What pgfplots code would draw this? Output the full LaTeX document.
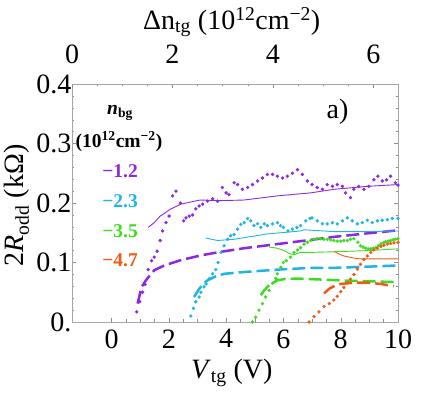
\documentclass[border=0pt]{standalone}
\usepackage{fontspec}
\setmainfont{Liberation Serif}
\usepackage{pgfplots}
\pgfplotsset{compat=1.18}
\definecolor{cPur}{RGB}{140,40,225}
\definecolor{cCya}{RGB}{30,180,230}
\definecolor{cGrn}{RGB}{60,220,30}
\definecolor{cOra}{RGB}{240,90,20}
\newcommand{\lblfont}{\fontsize{28}{30}\selectfont}
\newcommand{\inner}{\bfseries\fontsize{19.5}{21}\selectfont}

\begin{document}
\begin{tikzpicture}
\pgfplotsset{
  frame/.style={scale only axis, width=326pt, height=238pt,
    tick align=inside, axis line style={black!35},
    every tick/.style={black!45}, major tick length=4pt, minor tick length=2.5pt,
    tick label style={font=\lblfont}, label style={font=\lblfont},
    /pgf/number format/assume math mode=true},
  dots/.style={only marks, mark=*, mark size=1.5pt, color=#1},
  thin/.style={#1, line width=0.9pt, no marks},
  dash/.style={#1, line width=2.5pt, no marks, dash pattern=on 13pt off 5pt},
}
\begin{axis}[frame,
  xmin=-1.38, xmax=10, ymin=0, ymax=0.4,
  xtick={0,2,4,6,8,10}, ytick={0,0.1,0.2,0.3,0.4},
  yticklabels={0.,0.1,0.2,0.3,0.4},
  minor x tick num=3, minor y tick num=4,
  xtick pos=bottom, ytick pos=both, yticklabel pos=left,
  xticklabel style={yshift=-4pt},
  yticklabel style={xshift=3pt},
  xlabel={\textit{V}\textsubscript{tg} (V)},
  ylabel={2\textit{R}\textsubscript{odd} (kΩ)},
  xlabel style={at={(axis description cs:0.49,-0.214)}, anchor=center},
  ylabel style={at={(axis description cs:-0.168,0.49)}, anchor=center},
  clip=false,
]
% n_bg = -1.2
\addplot[dash=cPur] coordinates {(0.91,0.031)(1.05,0.059)(1.2,0.07)(1.49,0.087)(1.84,0.095)(2.42,0.104)(3.12,0.112)(3.82,0.118)(4.63,0.124)(5.79,0.131)(6.95,0.138)(7.76,0.143)(8.93,0.149)(10,0.154)};
\addplot[thin=cPur] coordinates {(1.28,0.159)(1.49,0.167)(1.7,0.178)(2.07,0.19)(2.42,0.198)(2.89,0.203)(3.1,0.205)(3.8,0.204)(4.63,0.205)(5.79,0.212)(6.95,0.217)(7.76,0.223)(8.93,0.228)(10,0.231)};
\addplot[dots=cPur] coordinates {(0.88,0.017)(0.99,0.034)(1.08,0.05)(1.17,0.063)(1.28,0.088)(1.40,0.103)(1.49,0.109)(1.59,0.119)(1.70,0.137)(1.78,0.153)(1.90,0.167)(2.01,0.178)(2.13,0.212)(2.25,0.22)(2.40,0.20)(2.52,0.17)(2.60,0.175)(2.71,0.178)(2.83,0.18)(2.94,0.19)(3.06,0.195)(3.18,0.198)(3.35,0.203)(3.53,0.207)(3.70,0.203)(3.87,0.226)(4.0,0.217)(4.1,0.214)(4.28,0.234)(4.4,0.231)(4.57,0.223)(4.75,0.226)(4.92,0.231)(5.1,0.237)(5.27,0.242)(5.44,0.248)(5.62,0.248)(5.79,0.245)(5.97,0.242)(6.14,0.245)(6.31,0.25)(6.49,0.256)(6.66,0.248)(6.84,0.237)(7.0,0.231)(7.18,0.226)(7.36,0.223)(7.53,0.231)(7.71,0.228)(7.88,0.231)(8.06,0.228)(8.17,0.217)(8.34,0.209)(8.46,0.223)(8.63,0.228)(8.81,0.223)(8.98,0.228)(9.16,0.239)(9.3,0.245)(9.45,0.237)(9.6,0.239)(9.74,0.245)(9.91,0.234)(10,0.23)};
% n_bg = -2.3
\addplot[dash=cCya] coordinates {(2.88,0.042)(3.05,0.055)(3.2,0.064)(3.35,0.07)(3.6,0.076)(3.93,0.081)(4.63,0.084)(5.79,0.088)(6.95,0.091)(7.76,0.091)(8.93,0.093)(10,0.095)};
\addplot[thin=cCya] coordinates {(3.29,0.141)(3.7,0.137)(4.28,0.139)(5.44,0.148)(6.6,0.153)(6.72,0.155)(7.76,0.152)(8.93,0.152)(10,0.153)};
\addplot[dots=cCya] coordinates {(2.77,0.01)(2.86,0.023)(2.94,0.034)(3.06,0.042)(3.12,0.05)(3.23,0.059)(3.3,0.064)(3.41,0.073)(3.53,0.081)(3.64,0.088)(3.72,0.1)(3.82,0.117)(3.93,0.128)(4.05,0.139)(4.16,0.145)(4.28,0.147)(4.4,0.156)(4.51,0.164)(4.63,0.167)(4.75,0.174)(4.86,0.17)(4.97,0.162)(5.1,0.165)(5.21,0.159)(5.33,0.165)(5.44,0.162)(5.62,0.165)(5.79,0.167)(5.9,0.162)(6.0,0.159)(6.16,0.153)(6.31,0.156)(6.47,0.159)(6.6,0.162)(6.78,0.17)(6.93,0.174)(7.0,0.175)(7.18,0.17)(7.36,0.165)(7.53,0.165)(7.71,0.167)(7.88,0.165)(8.06,0.17)(8.23,0.175)(8.4,0.17)(8.58,0.165)(8.75,0.167)(8.93,0.171)(9.1,0.167)(9.28,0.17)(9.45,0.171)(9.63,0.172)(9.8,0.174)(10,0.174)};
% n_bg = -3.5
\addplot[dash=cGrn] coordinates {(5.21,0.045)(5.33,0.053)(5.44,0.059)(5.6,0.065)(5.79,0.07)(6.0,0.072)(6.5,0.073)(7.5,0.071)(8.5,0.069)(10,0.067)};
\addplot[thin=cGrn] coordinates {(5.5,0.126)(5.79,0.124)(6.02,0.12)(6.2,0.115)(6.37,0.113)(6.6,0.117)(6.95,0.117)(7.76,0.118)(8.93,0.12)(10,0.123)};
\addplot[dots=cGrn] coordinates {(4.92,0.0)(5.03,0.008)(5.15,0.02)(5.27,0.031)(5.38,0.042)(5.5,0.053)(5.62,0.065)(5.74,0.073)(5.79,0.081)(5.91,0.092)(6.0,0.1)(6.1,0.103)(6.25,0.109)(6.37,0.117)(6.49,0.121)(6.6,0.125)(6.72,0.131)(6.84,0.134)(6.95,0.137)(7.07,0.139)(7.18,0.14)(7.3,0.14)(7.41,0.139)(7.53,0.139)(7.65,0.138)(7.76,0.137)(7.88,0.136)(8.0,0.136)(8.11,0.137)(8.23,0.137)(8.34,0.139)(8.46,0.14)(8.6,0.134)(8.69,0.128)(8.78,0.126)(8.87,0.124)(8.96,0.123)(9.05,0.123)(9.14,0.124)(9.22,0.125)(9.31,0.128)(9.4,0.131)(9.49,0.133)(9.57,0.135)(9.66,0.136)(9.74,0.137)(9.83,0.138)(9.91,0.139)(10,0.14)};
% n_bg = -4.7
\addplot[dash=cOra] coordinates {(7.42,0.048)(7.6,0.056)(7.8,0.061)(8.0,0.064)(8.46,0.066)(8.93,0.066)(9.4,0.064)(9.85,0.06)};
\addplot[thin=cOra] coordinates {(7.76,0.119)(7.95,0.114)(8.11,0.111)(8.4,0.108)(8.69,0.106)(9.3,0.106)(10,0.106)};
\addplot[dots=cOra] coordinates {(6.9,0.0)(7.07,0.009)(7.24,0.017)(7.42,0.026)(7.6,0.031)(7.76,0.037)(7.88,0.043)(8.0,0.051)(8.11,0.058)(8.23,0.066)(8.34,0.072)(8.46,0.08)(8.58,0.089)(8.69,0.097)(8.81,0.105)(8.93,0.111)(9.05,0.117)(9.16,0.121)(9.28,0.124)(9.4,0.127)(9.51,0.129)(9.63,0.131)(9.74,0.132)(9.86,0.133)(10,0.134)};
% labels inside the frame
\node[font=\inner] at (axis cs:0.3,0.352) {\textit{n}\textsubscript{bg}};
\node[font=\inner] at (axis cs:0.26,0.303) {(10\textsuperscript{12}cm\textsuperscript{−2})};
\node[font=\inner, text=cPur] at (axis cs:0.3,0.253) {−1.2};
\node[font=\inner, text=cCya] at (axis cs:0.3,0.203) {−2.3};
\node[font=\inner, text=cGrn] at (axis cs:0.3,0.153) {−3.5};
\node[font=\inner, text=cOra] at (axis cs:0.3,0.103) {−4.7};
\node[font=\lblfont] at (axis cs:7.89,0.353) {a)};
\end{axis}
\begin{axis}[frame,
  xmin=0, xmax=6.49, ymin=0, ymax=0.4,
  axis x line*=top, hide y axis,
  xtick={0,2,4,6}, minor x tick num=3,
  xticklabel style={yshift=17pt},
  xlabel={Δn\textsubscript{tg} (10\textsuperscript{12}cm\textsuperscript{−2})},
  xlabel style={at={(axis description cs:0.49,1.26)}, anchor=center},
]
\end{axis}
\pgfresetboundingbox
\useasboundingbox (-72pt,-71pt) rectangle (364pt,322pt);
\end{tikzpicture}
\end{document}
